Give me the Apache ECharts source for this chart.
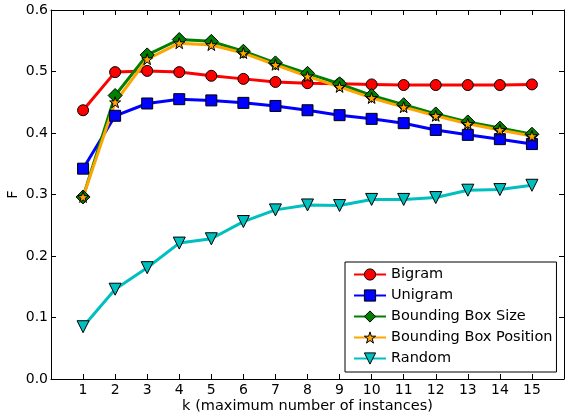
<!DOCTYPE html>
<html><head><meta charset="utf-8">
<script src="https://cdn.jsdelivr.net/npm/echarts@6/dist/echarts.min.js"></script>
<style>html,body{margin:0;padding:0;background:#fff}#c{width:565px;height:417px}</style>
</head><body><div id="c"></div>
<script>
var kValues = [1,2,3,4,5,6,7,8,9,10,11,12,13,14,15];
var bigram = [0.437,0.499,0.501,0.499,0.493,0.488,0.483,0.481,0.480,0.479,0.478,0.478,0.478,0.478,0.479];
var unigram = [0.342,0.428,0.448,0.455,0.453,0.449,0.444,0.437,0.429,0.423,0.416,0.405,0.397,0.390,0.382];
var bboxSize = [0.296,0.461,0.527,0.552,0.549,0.533,0.514,0.497,0.480,0.461,0.446,0.431,0.418,0.408,0.398];
var bboxPos = [0.296,0.450,0.520,0.546,0.543,0.530,0.511,0.492,0.475,0.457,0.442,0.428,0.415,0.405,0.395];
var random = [0.085,0.146,0.181,0.221,0.228,0.256,0.275,0.283,0.282,0.292,0.292,0.295,0.307,0.308,0.315];
var yTicks = ['0.0','0.1','0.2','0.3','0.4','0.5','0.6'];
var seriesNames = ['Bigram','Unigram','Bounding Box Size','Bounding Box Position','Random'];

function pts(arr){ return kValues.map(function(k,i){ return [k, arr[i]]; }); }
var FONT = 'DejaVu Sans';
var star = 'path://M50,0 L61.8,35.1 L98.9,35.1 L68.9,56.8 L80.3,91.9 L50,70.2 L19.7,91.9 L31.1,56.8 L1.1,35.1 L38.2,35.1 Z';

function mk(name, data, color, symbol, size, extra){
  var s = {
    name: name, type: 'line', data: pts(data),
    symbol: symbol, symbolSize: size,
    lineStyle: {color: color, width: 3},
    itemStyle: {color: color, borderColor: '#000', borderWidth: 1},
    emphasis: {disabled: true}, animation: false, z: 2
  };
  if (extra) for (var k in extra) s[k] = extra[k];
  return s;
}

var colors = ['#ff0000','#0000ff','#008000','#ffa500','#00bfbf'];
var chart = echarts.init(document.getElementById('c'));
var axisLineBlack = {show: true, onZero: false, lineStyle: {color: '#000', width: 1}};
var tick = {show: true, inside: true, length: 5, lineStyle: {color: '#000'}};
chart.setOption({
  animation: false,
  textStyle: {fontFamily: FONT},
  grid: {left: 51, right: 1, top: 10, bottom: 38, containLabel: false, outerBoundsMode: 'none'},
  xAxis: [{
    type: 'value', min: 0, max: 16, interval: 1, position: 'bottom',
    axisLine: axisLineBlack, axisTick: tick,
    axisLabel: {color: '#000', fontSize: 14, fontFamily: FONT, margin: 4,
      formatter: function(v){ return (v >= 1 && v <= 15) ? String(v) : ''; }},
    splitLine: {show: false},
    name: 'k (maximum number of instances)', nameLocation: 'middle', nameGap: 20, nameMoveOverlap: false,
    nameTextStyle: {color: '#000', fontSize: 14.5, fontFamily: FONT}
  },{
    type: 'value', min: 0, max: 16, interval: 1, position: 'top',
    axisLine: axisLineBlack, axisTick: tick,
    axisLabel: {show: false}, splitLine: {show: false}
  }],
  yAxis: [{
    type: 'value', min: 0, max: 0.6, interval: 0.1, position: 'left',
    axisLine: axisLineBlack, axisTick: tick,
    axisLabel: {color: '#000', fontSize: 14, fontFamily: FONT, margin: 3,
      formatter: function(v){ return yTicks[Math.round(v*10)]; }},
    splitLine: {show: false},
    name: 'F', nameLocation: 'middle', nameGap: 30, nameRotate: 90, nameMoveOverlap: false,
    nameTextStyle: {color: '#000', fontSize: 14.5, fontFamily: FONT}
  },{
    type: 'value', min: 0, max: 0.6, interval: 0.1, position: 'right',
    axisLine: axisLineBlack, axisTick: tick,
    axisLabel: {show: false}, splitLine: {show: false}
  }],
  legend: {
    orient: 'vertical', left: 345, top: 262, width: 213,
    backgroundColor: '#fff', borderColor: '#000', borderWidth: 1,
    padding: [5, 4, 6, 8], itemGap: 6, itemWidth: 32, itemHeight: 14,
    textStyle: {color: '#000', fontSize: 14.5, fontFamily: FONT},
    data: seriesNames.map(function(n, i){
      return {name: n, itemStyle: {color: colors[i], borderColor: '#000', borderWidth: 1}};
    })
  },
  series: [
    mk(seriesNames[0], bigram, colors[0], 'circle', 11),
    mk(seriesNames[1], unigram, colors[1], 'rect', 11),
    mk(seriesNames[2], bboxSize, colors[2], 'diamond', 14),
    mk(seriesNames[3], bboxPos, colors[3], star, 11),
    mk(seriesNames[4], random, colors[4], 'triangle', 12, {symbolRotate: 180})
  ]
});
</script></body></html>
